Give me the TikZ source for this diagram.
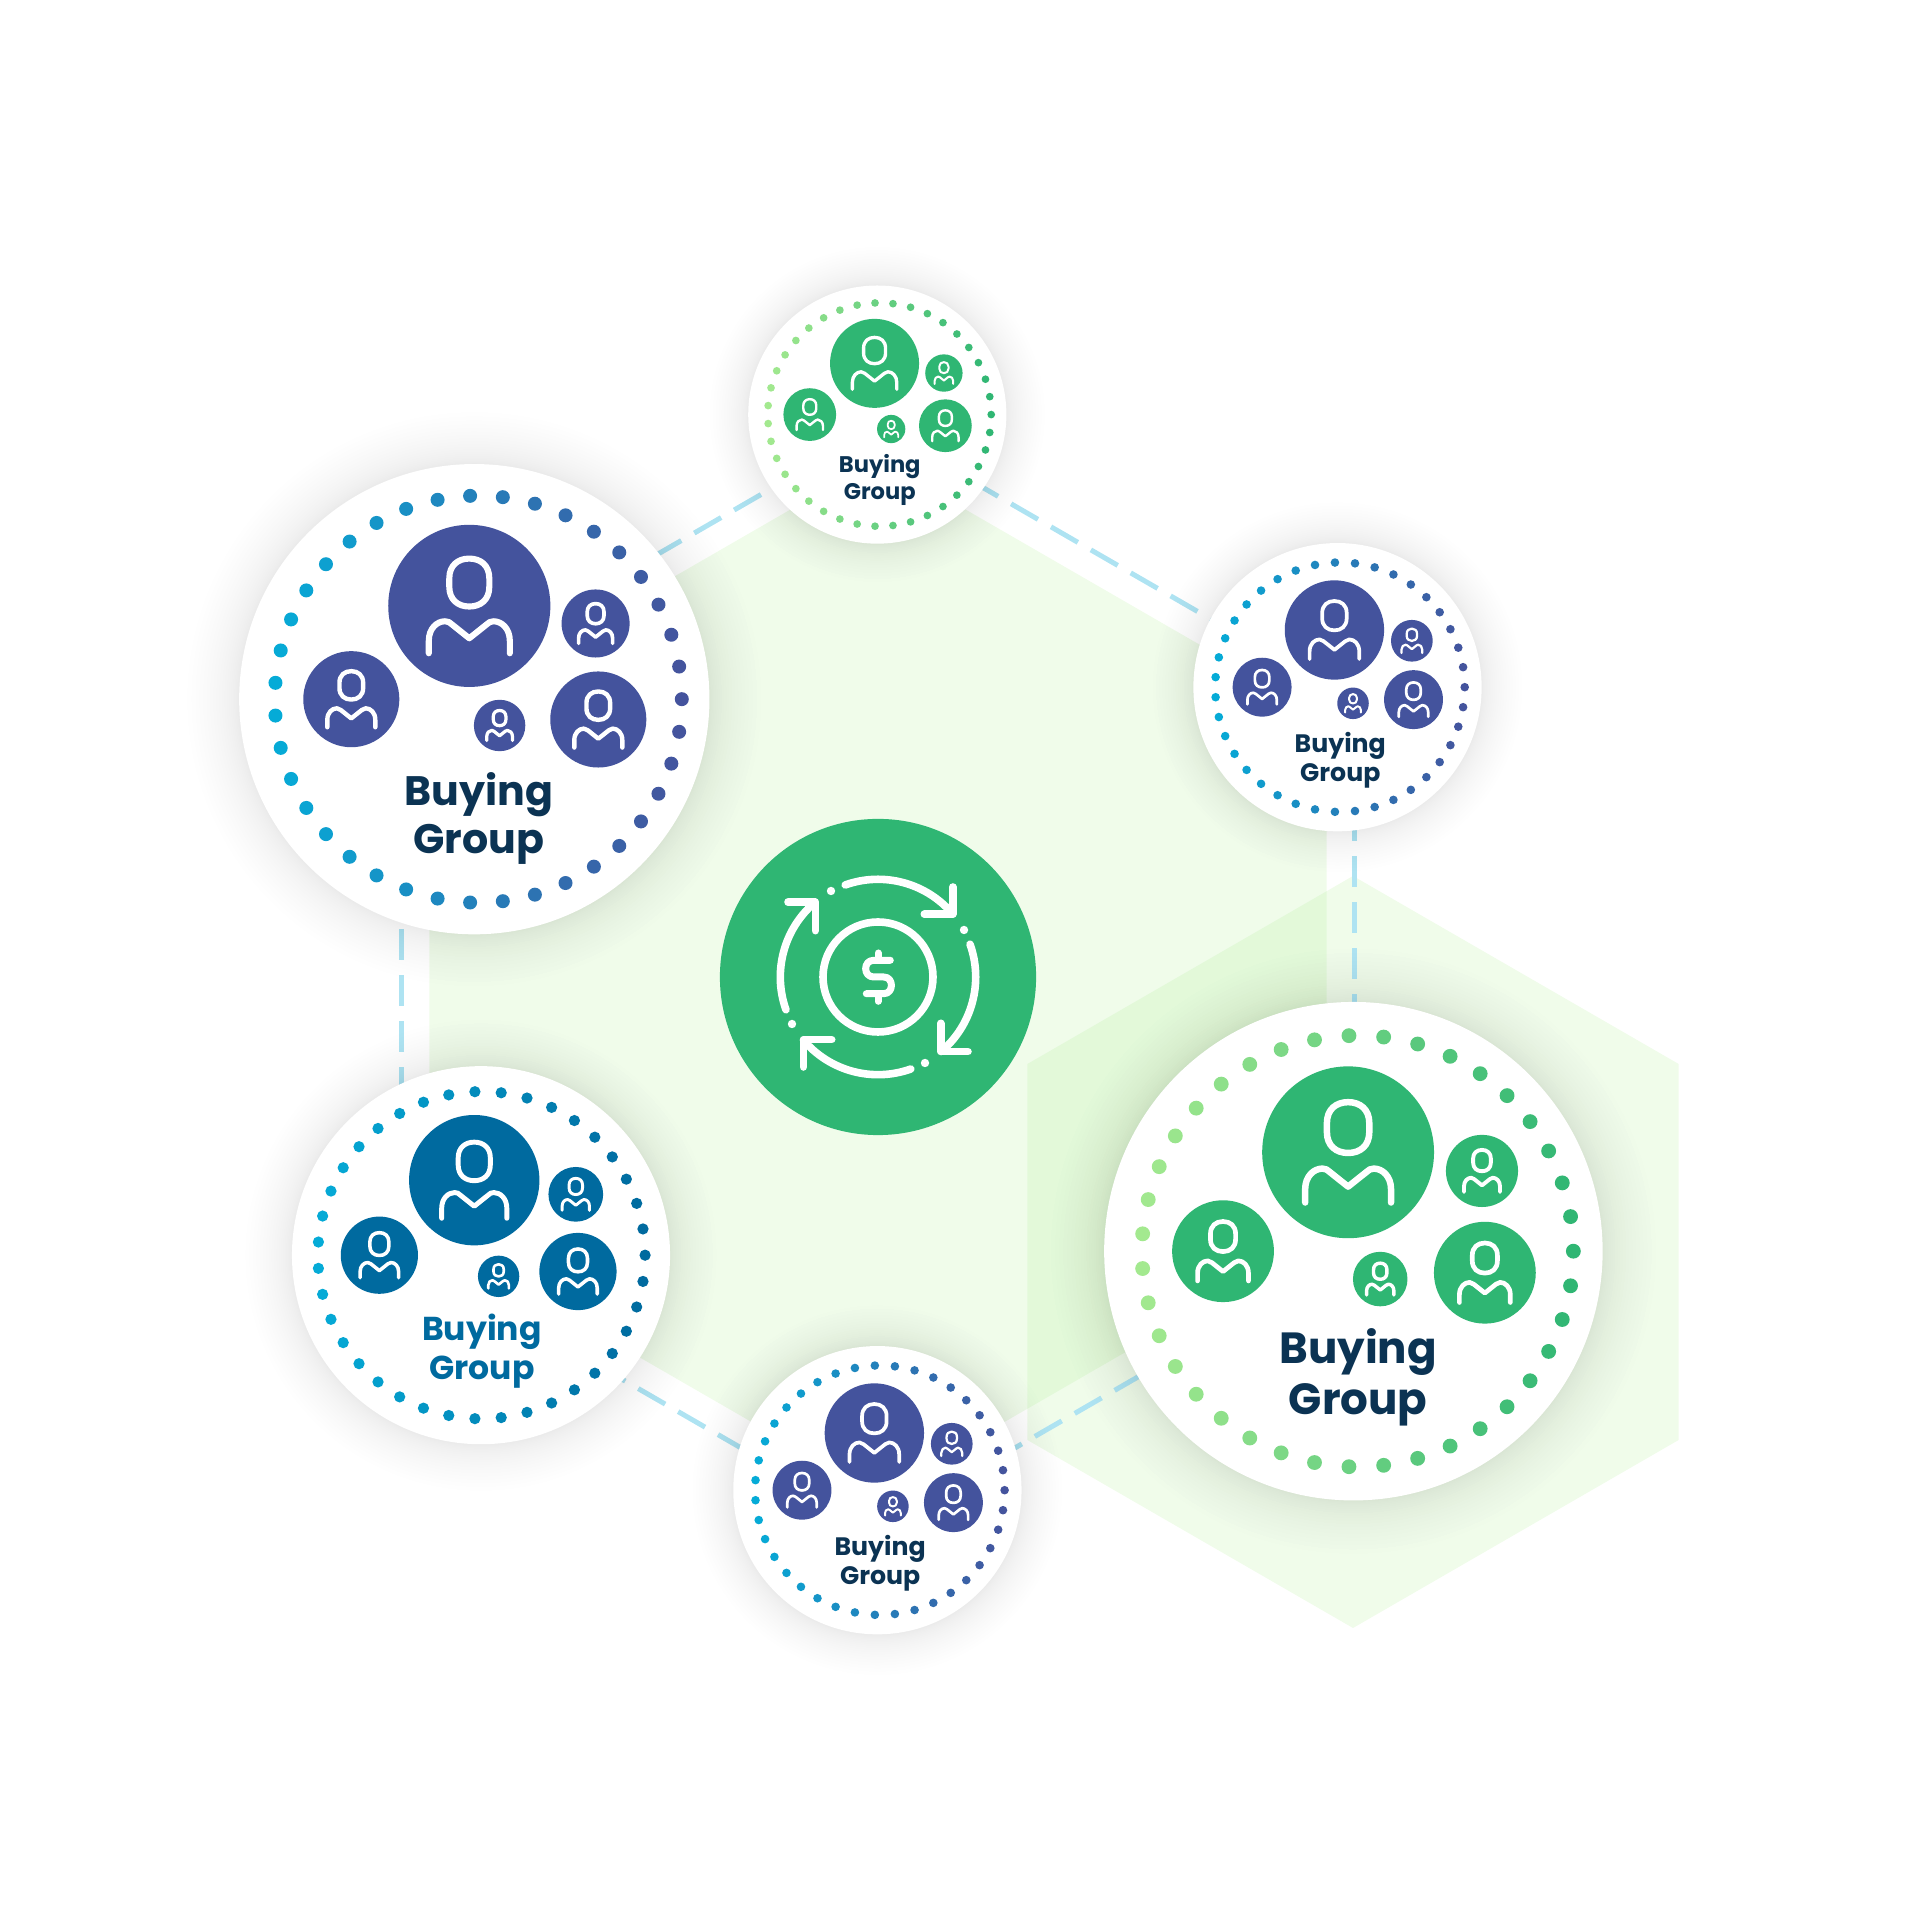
\documentclass[tikz,border=0pt]{standalone}
\usepackage{fontspec}
\setmainfont{Poppins}
\definecolor{indigo}{HTML}{44539D}
\definecolor{leaf}{HTML}{2FB673}
\definecolor{sea}{HTML}{006A9F}
\definecolor{cyanpt}{HTML}{05ABD7}
\definecolor{palept}{HTML}{A3E98F}
\definecolor{navy}{HTML}{0B3353}
\definecolor{linkblue}{HTML}{AEE3F2}
\definecolor{hexgreen}{HTML}{9FEA7F}
% one person: name, x, y, radius, colour (scale of the group in \gscale)
\newcommand{\personicon}[5]{
\node [person,fill=#5,minimum size=#4*0.02cm] (#1) at (#2,#3) {};
\begin{scope}[shift={(#2,#3)},scale=#4,line width={(1.9+.052*#4)*\gscale*0.01cm}]
\draw [iconline] (-.247,.34) .. controls (-.247,.50) and (-.14,.584) .. (0,.584)
  .. controls (.14,.584) and (.247,.50) .. (.247,.34) -- (.247,.236)
  .. controls (.247,.076) and (.14,-.008) .. (0,-.008)
  .. controls (-.14,-.008) and (-.247,.076) .. (-.247,.236) -- cycle;
\draw [iconline] (-.5,-.585) -- (-.5,-.43) .. controls (-.5,-.28) and (-.40,-.19) .. (-.30,-.19)
  .. controls (-.26,-.19) and (-.24,-.205) .. (-.218,-.226) -- (0,-.40) -- (.218,-.226)
  .. controls (.24,-.205) and (.26,-.19) .. (.30,-.19)
  .. controls (.40,-.19) and (.5,-.28) .. (.5,-.43) -- (.5,-.585);
\end{scope}
}
% one group: name, x, y, scale, left dots, right dots, person colour, text colour, shift of the content
\newcommand{\buyinggroup}[9]{
\def\gscale{#4}
\begin{scope}[shift={(#2,#3)},scale=#4,transform shape]
\foreach \s in {1,...,22}
  \fill [black,opacity=.0042] (0,0) circle ({235+(52/sqrt(#4))*(\s/22)^1.8});
\node [disc] (#1) at (0,0) {};
\foreach \i in {0,...,38}{
  \pgfmathsetmacro{\a}{\i*360/39}
  \pgfmathsetmacro{\t}{50*(1+cos(\a))}
  \fill [#6!\t!#5] (#9,0) ++(\a:203.5) circle (7);
}
\begin{scope}[shift={(#9,0)}]
\personicon{#1lead}{-9}{93.3}{81}{#7}
\personicon{#1small}{117.3}{75.7}{34}{#7}
\personicon{#1right}{120}{-20.3}{48}{#7}
\personicon{#1left}{-127}{0}{48}{#7}
\personicon{#1tiny}{21.3}{-26.3}{25.7}{#7}
\node [grouplabel,text=#8] (#1label) at (.5,-119.2) {Buying\\Group};
\end{scope}
\end{scope}
}
\begin{document}
\begin{tikzpicture}[x=0.01cm,y=0.01cm]
\tikzstyle{disc}=[circle,fill=white,inner sep=0pt,minimum size=4.7cm]
\tikzstyle{person}=[circle,inner sep=0pt]
\tikzstyle{iconline}=[white,line cap=round,line join=round]
\tikzstyle{grouplabel}=[align=center,inner sep=0pt,font=\fontsize{11.7}{13.6}\selectfont\bfseries]
\tikzstyle{hubdisc}=[circle,fill=leaf,inner sep=0pt,minimum size=3.16cm]
\tikzstyle{hexfill}=[hexgreen,fill opacity=.16]
\tikzstyle{linkline}=[linkblue,line width=1.42pt,dash pattern=on 8.82pt off 4.27pt,dash phase=.85pt]
\useasboundingbox (0,0) rectangle (1918,1918);
\coordinate (mid) at (878,941);
\coordinate (far) at (1353,666);
% the two pale hexagons
\fill [hexfill] ([shift={(90:518)}]mid) -- ([shift={(150:518)}]mid) -- ([shift={(210:518)}]mid)
  -- ([shift={(270:518)}]mid) -- ([shift={(330:518)}]mid) -- ([shift={(30:518)}]mid) -- cycle;
\fill [hexfill] ([shift={(90:376)}]far) -- ([shift={(150:376)}]far) -- ([shift={(210:376)}]far)
  -- ([shift={(270:376)}]far) -- ([shift={(330:376)}]far) -- ([shift={(30:376)}]far) -- cycle;
% dashed links
\foreach \i/\a in {1/90,2/150,3/210,4/270,5/330,6/30}
  \coordinate (v\i) at ([shift={(\a:550)}]mid);
\draw [linkline] (v1) -- (v2);
\draw [linkline] (v2) -- (v3);
\draw [linkline] (v3) -- (v4);
\draw [linkline] (v4) -- (v5);
\draw [linkline] (v5) -- (v6);
\draw [linkline] (v6) -- (v1);
% groups
\buyinggroup{bigindigo}{474.3}{1218.8}{1}{cyanpt}{indigo}{indigo}{navy}{4}
\buyinggroup{topleaf}{877.3}{1503.4}{.549}{palept}{leaf}{leaf}{navy}{4}
\buyinggroup{sideindigo}{1337.5}{1230.8}{.613}{cyanpt}{indigo}{indigo}{navy}{4}
\buyinggroup{bigleaf}{1353.4}{666.8}{1.06}{palept}{leaf}{leaf}{navy}{4}
\buyinggroup{lowindigo}{877.4}{427.8}{.613}{cyanpt}{indigo}{indigo}{navy}{4}
\buyinggroup{sidesea}{481}{662.8}{.804}{cyanpt}{sea}{sea}{sea}{.6}
% centre icon
\node [hubdisc] (hub) at (mid) {};
\begin{scope}[shift={(mid)}]
\draw [iconline,line width=7.6*0.01cm] (0,0) circle (55);
\foreach \r in {0,-90,-180,-270}{
  \begin{scope}[rotate=\r]
  \draw [iconline,line width=7.6*0.01cm] (109.6:97.7) arc (109.6:40.3:97.7);
  \draw [iconline,line width=7.6*0.01cm] (74.7,90) -- (74.7,62.7) -- (46.3,62.7);
  \fill [white] (-47,86) circle (4.2);
  \end{scope}
}
\draw [iconline,line width=7*0.01cm] (12.3,16.7) -- (-4.3,16.7) .. controls (-15,16.7) and (-15,0) .. (-4.3,0)
  -- (5.7,0) .. controls (16,0) and (16,-16.7) .. (5.7,-16.7) -- (-11.7,-16.7);
\draw [iconline,line width=7*0.01cm] (0,24) -- (0,16.7);
\draw [iconline,line width=7*0.01cm] (0,-16.7) -- (0,-24.3);
\end{scope}
\end{tikzpicture}
\end{document}
